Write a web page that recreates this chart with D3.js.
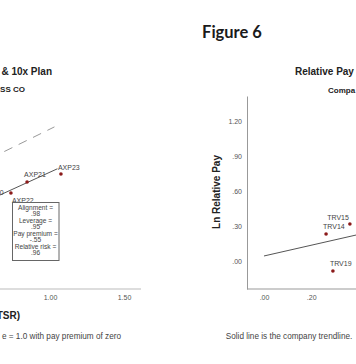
<!DOCTYPE html>
<html>
<head>
<meta charset="utf-8">
<script src="https://cdn.jsdelivr.net/npm/d3@7"></script>
<style>
  html, body { margin: 0; padding: 0; background: #fff; }
  svg { display: block; }
  text { font-family: "Liberation Sans", Arial, sans-serif; }
</style>
</head>
<body>
<svg id="chart" width="356" height="364"></svg>
<script>
// ---------- Data ----------
// Left panel (partially visible)
const leftLabels = ["AXP20", "AXP22", "AXP21", "AXP23"];
const leftX = [0.56, 0.736, 0.845, 1.074];   // Ln relative TSR
const leftY = [0.03, 0.121, 0.272, 0.382];   // Ln relative pay
const leftLabelPos = ["above", "below", "above", "above"];
const leftTrendX = [0.45, 1.05];
const leftTrendY = [-0.104, 0.454];
const leftDiagX = [0.40, 1.03];              // alignment = 1.0, premium 0
const leftXTicks = [1.00, 1.50];
const statsLines = ["Alignment =", ".98", "Leverage =", ".95", "Pay premium =", "-.55", "Relative risk =", ".96"];

// Right panel (partially visible)
const rightLabels = ["TRV14", "TRV15", "TRV19"];
const rightX = [0.263, 0.364, 0.292];
const rightY = [0.231, 0.317, -0.086];
const rightLabelPos = ["above", "aboveLeft", "above"];
const rightTrendX = [0.0, 0.5];
const rightTrendY = [0.043, 0.273];
const rightYTicks = [0.00, 0.30, 0.60, 0.90, 1.20];
const rightXTicks = [0.00, 0.20];

// ---------- Drawing ----------
const svg = d3.select("#chart");
const pointColor = "#8b1a1a";
const fmt2 = v => { const s = d3.format(".2f")(v); return s.replace(/^0\./, ".").replace(/^-0\./, "-."); };

// Left scales
const xL = d3.scaleLinear().domain([0.5, 1.5]).range([-24, 124]);
const yL = d3.scaleLinear().domain([-1.2, 1.4]).range([289, 100]);

// Right scales
const xR = d3.scaleLinear().domain([-0.072, 0.5]).range([247, 382]);
const yR = d3.scaleLinear().domain([-0.24, 1.414]).range([289, 96]);

// Figure title
svg.append("text").attr("x", 232).attr("y", 38).attr("text-anchor", "middle")
  .style("font-family", "Lato, 'Noto Sans', sans-serif").style("font-weight", "bold")
  .style("font-size", "16.5px").attr("fill", "#1a1a1a").text("Figure 6");

// ---- Left panel ----
const gL = svg.append("g");
gL.append("text").attr("x", 52).attr("y", 75).attr("text-anchor", "end")
  .style("font-weight", "bold").style("font-size", "10px").attr("fill", "#222").text("& 10x Plan");
gL.append("text").attr("x", 25).attr("y", 92).attr("text-anchor", "end")
  .style("font-weight", "bold").style("font-size", "8px").attr("fill", "#222").text("SS CO");

// x axis
const axL = d3.axisBottom(xL).tickValues(leftXTicks).tickSize(0).tickPadding(6).tickFormat(d3.format(".2f"));
const gAxL = gL.append("g").attr("transform", "translate(0,289)").call(axL);
gAxL.select(".domain").attr("stroke", "#bbb").attr("d", "M" + xL.range()[0] + ",0H" + xL(1.615));
gAxL.selectAll("text").style("font-size", "7px").attr("fill", "#555")
  .style("font-family", "'Liberation Sans', Arial, sans-serif");

// diagonal dashed line (y = x)
const lineL = d3.line().x(d => xL(d[0])).y(d => yL(d[1]));
gL.append("path").datum(leftDiagX.map(v => [v, v])).attr("d", lineL)
  .attr("stroke", "#999").attr("stroke-width", 1).attr("stroke-dasharray", "9,7").attr("fill", "none");
// trend
gL.append("path").datum(leftTrendX.map((v, i) => [v, leftTrendY[i]])).attr("d", lineL)
  .attr("stroke", "#555").attr("stroke-width", 1).attr("fill", "none");

// points
leftX.forEach((v, i) => {
  const px = xL(v), py = yL(leftY[i]);
  gL.append("circle").attr("cx", px).attr("cy", py).attr("r", 1.8).attr("fill", pointColor);
  const below = leftLabelPos[i] === "below";
  gL.append("text").attr("x", below ? px + 1 : px - 3).attr("y", below ? py + 10 : py - 4.5)
    .style("font-size", "7px").attr("fill", "#444").text(leftLabels[i]);
});

// stats box
gL.append("rect").attr("x", 12.5).attr("y", 202.5).attr("width", 46.5).attr("height", 58)
  .attr("fill", "#fff").attr("stroke", "#666").attr("stroke-width", 1);
statsLines.forEach((s, i) => {
  gL.append("text").attr("x", 35.5).attr("y", 209.5 + i * 6.5).attr("text-anchor", "middle")
    .style("font-size", "6.6px").attr("fill", "#444").text(s);
});

gL.append("text").attr("x", 20).attr("y", 318.5).attr("text-anchor", "end")
  .style("font-weight", "bold").style("font-size", "10px").attr("fill", "#222").text("TSR)");
gL.append("text").attr("x", 121).attr("y", 339).attr("text-anchor", "end")
  .style("font-size", "8.2px").attr("fill", "#444").text("e = 1.0 with pay premium of zero");

// ---- Right panel ----
const gR = svg.append("g");
gR.append("text").attr("x", 295).attr("y", 75)
  .style("font-weight", "bold").style("font-size", "10px").attr("fill", "#222").text("Relative Pay");
gR.append("text").attr("x", 328).attr("y", 92.5)
  .style("font-weight", "bold").style("font-size", "8px").attr("fill", "#222").text("Compa");

const ayR = d3.axisLeft(yR).tickValues(rightYTicks).tickSize(0).tickPadding(5).tickFormat(fmt2);
const gAyR = gR.append("g").attr("transform", "translate(247,0)").call(ayR);
gAyR.select(".domain").attr("stroke", "#999");
gAyR.selectAll("text").style("font-size", "7px").attr("fill", "#555")
  .style("font-family", "'Liberation Sans', Arial, sans-serif");

const axR = d3.axisBottom(xR).tickValues(rightXTicks).tickSize(0).tickPadding(6).tickFormat(fmt2);
const gAxR = gR.append("g").attr("transform", "translate(0,289)").call(axR);
gAxR.select(".domain").attr("stroke", "#999").attr("d", "M247,0H356");
gAxR.selectAll("text").style("font-size", "7px").attr("fill", "#555")
  .style("font-family", "'Liberation Sans', Arial, sans-serif");

gR.append("text").attr("transform", "translate(220,192) rotate(-90)").attr("text-anchor", "middle")
  .style("font-weight", "bold").style("font-size", "10px").attr("fill", "#222").text("Ln Relative Pay");

const lineR = d3.line().x(d => xR(d[0])).y(d => yR(d[1]));
gR.append("path").datum(rightTrendX.map((v, i) => [v, rightTrendY[i]])).attr("d", lineR)
  .attr("stroke", "#555").attr("stroke-width", 1).attr("fill", "none");

rightX.forEach((v, i) => {
  const px = xR(v), py = yR(rightY[i]);
  gR.append("circle").attr("cx", px).attr("cy", py).attr("r", 1.8).attr("fill", pointColor);
  const pos = rightLabelPos[i];
  const t = gR.append("text").style("font-size", "7px").attr("fill", "#444").text(rightLabels[i]);
  if (pos === "aboveLeft") t.attr("x", px - 1).attr("y", py - 4).attr("text-anchor", "end");
  else t.attr("x", px - 3).attr("y", py - 5.5);
});

gR.append("text").attr("x", 289).attr("y", 339).attr("text-anchor", "middle")
  .style("font-size", "8.2px").attr("fill", "#444").text("Solid line is the company trendline.");
</script>
</body>
</html>
